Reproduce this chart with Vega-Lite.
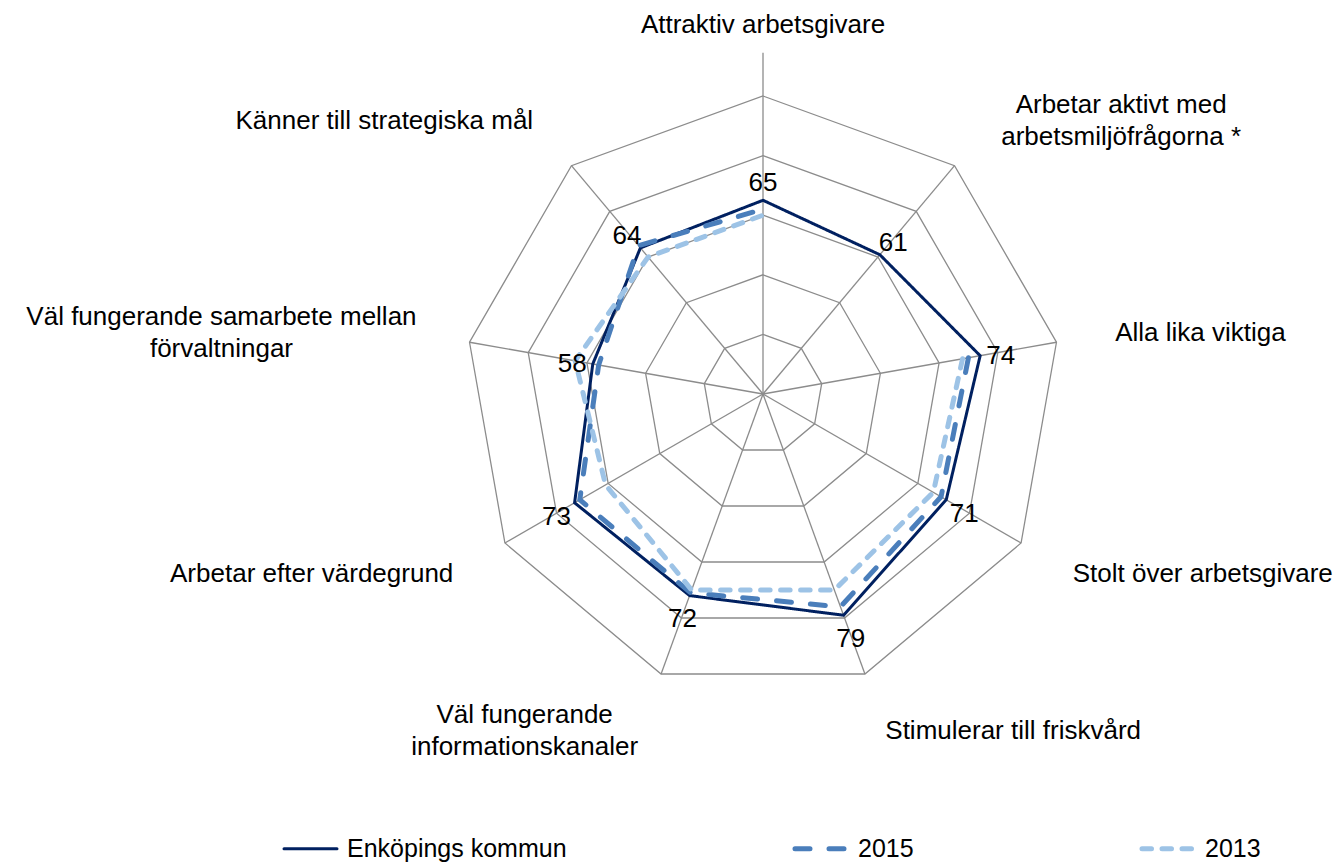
{
  "$schema": "https://vega.github.io/schema/vega-lite/v6.json",
  "width": 1341,
  "height": 862,
  "padding": 0,
  "autosize": "none",
  "background": "white",
  "config": {"view": {"stroke": null}, "font": "Liberation Sans"},
  "datasets": {
    "kategorier": [
      {"k": 0, "namn": ["Attraktiv arbetsgivare"]},
      {"k": 1, "namn": ["Arbetar aktivt med", "arbetsmiljöfrågorna *"]},
      {"k": 2, "namn": ["Alla lika viktiga"]},
      {"k": 3, "namn": ["Stolt över arbetsgivare"]},
      {"k": 4, "namn": ["Stimulerar till friskvård"]},
      {"k": 5, "namn": ["Väl fungerande", "informationskanaler"]},
      {"k": 6, "namn": ["Arbetar efter värdegrund"]},
      {"k": 7, "namn": ["Väl fungerande samarbete mellan", "förvaltningar"]},
      {"k": 8, "namn": ["Känner till strategiska mål"]}
    ],
    "ringar": [
      {"ring": 20, "k": [0, 1, 2, 3, 4, 5, 6, 7, 8]},
      {"ring": 40, "k": [0, 1, 2, 3, 4, 5, 6, 7, 8]},
      {"ring": 60, "k": [0, 1, 2, 3, 4, 5, 6, 7, 8]},
      {"ring": 80, "k": [0, 1, 2, 3, 4, 5, 6, 7, 8]},
      {"ring": 100, "k": [0, 1, 2, 3, 4, 5, 6, 7, 8]}
    ],
    "varden": [
      {"serie": "Enköpings kommun", "k": 0, "v": 65},
      {"serie": "Enköpings kommun", "k": 1, "v": 61},
      {"serie": "Enköpings kommun", "k": 2, "v": 74},
      {"serie": "Enköpings kommun", "k": 3, "v": 71},
      {"serie": "Enköpings kommun", "k": 4, "v": 79},
      {"serie": "Enköpings kommun", "k": 5, "v": 72},
      {"serie": "Enköpings kommun", "k": 6, "v": 73},
      {"serie": "Enköpings kommun", "k": 7, "v": 58},
      {"serie": "Enköpings kommun", "k": 8, "v": 64},
      {"serie": "2015", "k": 0, "v": 62},
      {"serie": "2015", "k": 2, "v": 70},
      {"serie": "2015", "k": 3, "v": 69},
      {"serie": "2015", "k": 4, "v": 76},
      {"serie": "2015", "k": 5, "v": 71},
      {"serie": "2015", "k": 6, "v": 71},
      {"serie": "2015", "k": 7, "v": 56},
      {"serie": "2015", "k": 8, "v": 65},
      {"serie": "2013", "k": 0, "v": 60},
      {"serie": "2013", "k": 2, "v": 68},
      {"serie": "2013", "k": 3, "v": 66},
      {"serie": "2013", "k": 4, "v": 70},
      {"serie": "2013", "k": 5, "v": 70},
      {"serie": "2013", "k": 6, "v": 61},
      {"serie": "2013", "k": 7, "v": 64},
      {"serie": "2013", "k": 8, "v": 60}
    ]
  },
  "layer": [
    {
      "data": {"name": "ringar"},
      "transform": [
        {"flatten": ["k"]},
        {"calculate": "datum.ring * sin(datum.k * 2 * PI / 9)", "as": "x"},
        {"calculate": "datum.ring * cos(datum.k * 2 * PI / 9)", "as": "y"}
      ],
      "mark": {"type": "line", "interpolate": "linear-closed", "stroke": "#8c8c8c", "strokeWidth": 1.3},
      "encoding": {
        "x": {"field": "x", "type": "quantitative", "scale": {"domain": [-256.04, 193.96], "nice": false, "zero": false}, "axis": null},
        "y": {"field": "y", "type": "quantitative", "scale": {"domain": [-157.05, 132.21], "nice": false, "zero": false}, "axis": null},
        "detail": {"field": "ring", "type": "nominal"},
        "order": {"field": "k", "type": "quantitative"}
      }
    },
    {
      "data": {"name": "kategorier"},
      "transform": [
        {"calculate": "100 * sin(datum.k * 2 * PI / 9)", "as": "gx"},
        {"calculate": "100 * cos(datum.k * 2 * PI / 9)", "as": "gy"}
      ],
      "mark": {"type": "rule", "stroke": "#8c8c8c", "strokeWidth": 1.3},
      "encoding": {
        "x": {"field": "gx", "type": "quantitative", "scale": {"domain": [-256.04, 193.96], "nice": false, "zero": false}, "axis": null},
        "y": {"field": "gy", "type": "quantitative", "scale": {"domain": [-157.05, 132.21], "nice": false, "zero": false}, "axis": null},
        "x2": {"datum": 0},
        "y2": {"datum": 0}
      }
    },
    {
      "data": {"values": [{"a": 100, "b": 114.5}]},
      "mark": {"type": "rule", "stroke": "#8c8c8c", "strokeWidth": 1.3},
      "encoding": {
        "x": {"datum": 0, "type": "quantitative", "scale": {"domain": [-256.04, 193.96], "nice": false, "zero": false}, "axis": null},
        "y": {"field": "a", "type": "quantitative", "scale": {"domain": [-157.05, 132.21], "nice": false, "zero": false}, "axis": null},
        "y2": {"field": "b"}
      }
    },
    {
      "data": {"name": "varden"},
      "transform": [
        {"filter": "datum.serie == 'Enköpings kommun'"},
        {"calculate": "datum.v * sin(datum.k * 2 * PI / 9)", "as": "x"},
        {"calculate": "datum.v * cos(datum.k * 2 * PI / 9)", "as": "y"}
      ],
      "mark": {"type": "line", "interpolate": "linear-closed", "strokeWidth": 3, "strokeJoin": "miter"},
      "encoding": {
        "x": {"field": "x", "type": "quantitative", "scale": {"domain": [-256.04, 193.96], "nice": false, "zero": false}, "axis": null},
        "y": {"field": "y", "type": "quantitative", "scale": {"domain": [-157.05, 132.21], "nice": false, "zero": false}, "axis": null},
        "order": {"field": "k", "type": "quantitative"},
        "color": {
          "field": "serie", "type": "nominal",
          "scale": {"domain": ["Enköpings kommun", "2015", "2013"], "range": ["#002060", "#4A7EBB", "#9DC3E6"]},
          "legend": {"orient": "none", "legendX": 298, "legendY": 836, "direction": "horizontal", "title": null, "symbolType": "stroke", "symbolSize": 2809, "labelFontSize": 25, "labelFont": "Liberation Sans", "labelColor": "#000000", "labelOffset": 24, "labelLimit": 0, "columnPadding": 218, "symbolStrokeWidth": 4,
            "encode": {"symbols": {"update": {"strokeCap": {"value": "round"}, "strokeWidth": {"signal": "datum.value === 'Enköpings kommun' ? 3 : 5"}}}}}
        },
        "strokeDash": {
          "field": "serie", "type": "nominal",
          "scale": {"domain": ["Enköpings kommun", "2015", "2013"], "range": [[1, 0], [15, 19], [9.5, 10.5]]},
          "legend": {"orient": "none", "legendX": 298, "legendY": 836, "direction": "horizontal", "title": null, "symbolType": "stroke", "symbolSize": 2809, "labelFontSize": 25, "labelFont": "Liberation Sans", "labelColor": "#000000", "labelOffset": 24, "labelLimit": 0, "columnPadding": 218, "symbolStrokeWidth": 4}
        }
      }
    },
    {
      "data": {"name": "varden"},
      "transform": [
        {"filter": "datum.serie != 'Enköpings kommun'"},
        {"calculate": "datum.v * sin(datum.k * 2 * PI / 9)", "as": "x"},
        {"calculate": "datum.v * cos(datum.k * 2 * PI / 9)", "as": "y"},
        {"calculate": "datum.k == 0 ? 9 : datum.k", "as": "o"}
      ],
      "mark": {"type": "line", "interpolate": "linear", "strokeWidth": 5, "strokeCap": "round"},
      "encoding": {
        "x": {"field": "x", "type": "quantitative", "scale": {"domain": [-256.04, 193.96], "nice": false, "zero": false}, "axis": null},
        "y": {"field": "y", "type": "quantitative", "scale": {"domain": [-157.05, 132.21], "nice": false, "zero": false}, "axis": null},
        "order": {"field": "o", "type": "quantitative"},
        "color": {
          "field": "serie", "type": "nominal",
          "scale": {"domain": ["Enköpings kommun", "2015", "2013"], "range": ["#002060", "#4A7EBB", "#9DC3E6"]},
          "legend": {"orient": "none", "legendX": 298, "legendY": 836, "direction": "horizontal", "title": null, "symbolType": "stroke", "symbolSize": 2809, "labelFontSize": 25, "labelFont": "Liberation Sans", "labelColor": "#000000", "labelOffset": 24, "labelLimit": 0, "columnPadding": 218, "symbolStrokeWidth": 4,
            "encode": {"symbols": {"update": {"strokeCap": {"value": "round"}, "strokeWidth": {"signal": "datum.value === 'Enköpings kommun' ? 3 : 5"}}}}}
        },
        "strokeDash": {
          "field": "serie", "type": "nominal",
          "scale": {"domain": ["Enköpings kommun", "2015", "2013"], "range": [[1, 0], [15, 19], [9.5, 10.5]]},
          "legend": {"orient": "none", "legendX": 298, "legendY": 836, "direction": "horizontal", "title": null, "symbolType": "stroke", "symbolSize": 2809, "labelFontSize": 25, "labelFont": "Liberation Sans", "labelColor": "#000000", "labelOffset": 24, "labelLimit": 0, "columnPadding": 218, "symbolStrokeWidth": 4}
        }
      }
    },
    {
      "data": {"name": "varden"},
      "transform": [
        {"filter": "datum.serie == 'Enköpings kommun'"},
        {"calculate": "(datum.v + 7) * sin(datum.k * 2 * PI / 9)", "as": "x"},
        {"calculate": "(datum.v + 7) * cos(datum.k * 2 * PI / 9)", "as": "y"}
      ],
      "mark": {"type": "text", "fontSize": 26, "font": "Liberation Sans", "color": "#000000", "align": "center", "baseline": "middle", "dy": 4},
      "encoding": {
        "x": {"field": "x", "type": "quantitative", "scale": {"domain": [-256.04, 193.96], "nice": false, "zero": false}, "axis": null},
        "y": {"field": "y", "type": "quantitative", "scale": {"domain": [-157.05, 132.21], "nice": false, "zero": false}, "axis": null},
        "text": {"field": "v", "type": "quantitative"}
      }
    },
    {
      "data": {"name": "kategorier"},
      "transform": [
        {"calculate": "sin(datum.k * 2 * PI / 9)", "as": "s"},
        {"calculate": "cos(datum.k * 2 * PI / 9)", "as": "c"},
        {"calculate": "length(datum.namn)", "as": "n"},
        {"calculate": "max(length(datum.namn[0]), datum.n > 1 ? length(datum.namn[1]) : 0)", "as": "ml"},
        {"calculate": "datum.k == 0 ? 121.5 : 120", "as": "lr"},
        {"calculate": "datum.lr * datum.s + (datum.n > 1 ? (datum.s > 0 ? 1 : -1) * datum.ml * 2.05 : 0)", "as": "lx"},
        {"calculate": "datum.lr * datum.c + (datum.n - 1) * 5.4", "as": "ly"},
        {"calculate": "datum.n > 1 ? 'center' : (datum.s > 0.1 ? 'left' : (datum.s < -0.1 ? 'right' : 'center'))", "as": "al"}
      ],
      "mark": {"type": "text", "fontSize": 26, "font": "Liberation Sans", "color": "#000000", "lineHeight": 32, "align": {"expr": "datum.al"}, "baseline": {"expr": "datum.k == 0 ? 'alphabetic' : 'middle'"}, "dy": 1},
      "encoding": {
        "x": {"field": "lx", "type": "quantitative", "scale": {"domain": [-256.04, 193.96], "nice": false, "zero": false}, "axis": null},
        "y": {"field": "ly", "type": "quantitative", "scale": {"domain": [-157.05, 132.21], "nice": false, "zero": false}, "axis": null},
        "text": {"field": "namn"}
      }
    }
  ]
}
